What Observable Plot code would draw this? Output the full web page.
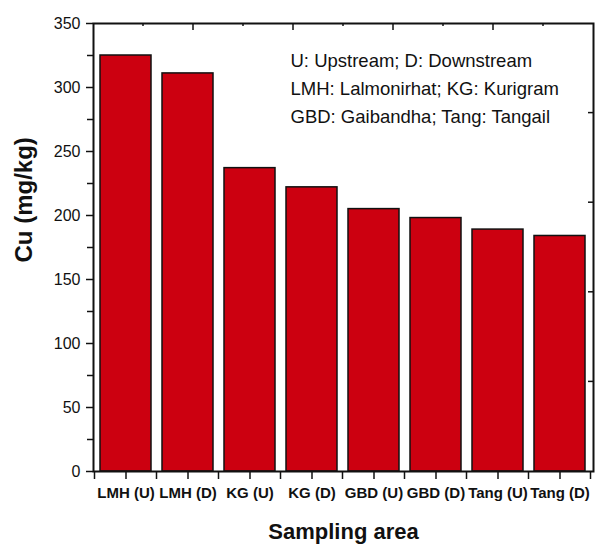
<!DOCTYPE html>
<html>
<head>
<meta charset="utf-8">
<script src="https://cdn.jsdelivr.net/npm/d3@7"></script>
<script src="https://cdn.jsdelivr.net/npm/@observablehq/plot@0.6"></script>
<style>
  html, body { margin: 0; padding: 0; background: #fff; }
  #chart svg { display: block; }
</style>
</head>
<body>
<div id="chart"></div>
<script>
// Copper concentration in sediment at each sampling site
const sites = ["LMH (U)", "LMH (D)", "KG (U)", "KG (D)", "GBD (U)", "GBD (D)", "Tang (U)", "Tang (D)"];
const cu = [325, 311, 237, 222, 205, 198, 189, 184];

// Axis ticks
const yMajorTicks = [0, 50, 100, 150, 200, 250, 300, 350];
const yMinorTicks = [25, 75, 125, 175, 225, 275, 325];

// Key to the site abbreviations
const legendLines = [
  "U: Upstream; D: Downstream",
  "LMH: Lalmonirhat; KG: Kurigram",
  "GBD: Gaibandha; Tang: Tangail"
];

const data = sites.map((site, i) => ({site, cu: cu[i]}));
const font = "'Liberation Sans', Arial, sans-serif";

// Ticks on the band boundaries below the x axis, plus the inward ticks
// on the top and right edges of the frame.
function frameTicks(index, scales, values, dimensions) {
  const x = scales.x;
  const {width, height, marginTop, marginRight, marginBottom, marginLeft} = dimensions;
  const gap = (x.step() - x.bandwidth()) / 2;
  const bounds = sites.map((s) => x(s) - gap).concat([x(sites[sites.length - 1]) + x.bandwidth() + gap]);
  const bottom = height - marginBottom;
  const right = width - marginRight;
  const g = d3.create("svg:g").attr("stroke", "#111").attr("stroke-width", 1.5).attr("fill", "none");
  g.selectAll(".b").data(bounds).join("line")
    .attr("x1", (d) => d).attr("x2", (d) => d)
    .attr("y1", bottom).attr("y2", bottom + 8);
  const w = right - marginLeft;
  g.selectAll(".t").data(d3.range(1, 10)).join("line")
    .attr("x1", (i) => marginLeft + (w * i) / 10).attr("x2", (i) => marginLeft + (w * i) / 10)
    .attr("y1", marginTop).attr("y2", (i) => marginTop + (i % 2 ? 3 : 7));
  const h = bottom - marginTop;
  g.selectAll(".r").data(d3.range(1, 5)).join("line")
    .attr("x1", right).attr("x2", right - 5)
    .attr("y1", (i) => bottom - (h * i) / 5).attr("y2", (i) => bottom - (h * i) / 5);
  return g.node();
}

const chart = Plot.plot({
  width: 597,
  height: 545,
  marginTop: 23,
  marginBottom: 74,
  marginLeft: 93,
  marginRight: 4,
  style: {fontFamily: font, color: "#111", background: "#fff"},
  x: {domain: sites, paddingInner: 0.17, paddingOuter: 0.085},
  y: {domain: [0, 350]},
  marks: [
    Plot.barY(data, {x: "site", y: "cu", fill: "#cc0010", stroke: "#111", strokeWidth: 1.5}),
    Plot.frame({stroke: "#111", strokeWidth: 2}),
    Plot.axisY({ticks: yMajorTicks, tickSize: 7, tickPadding: 6, fontSize: 16, label: null, strokeWidth: 1.5}),
    Plot.axisY({ticks: yMinorTicks, tickSize: 6, tickFormat: () => "", label: null, strokeWidth: 1.5}),
    Plot.axisX({tickSize: 8, tickPadding: 8, fontSize: 15, fontWeight: "bold", label: null, strokeWidth: 1.5}),
    frameTicks,
    Plot.text([legendLines.join("\n")], {
      frameAnchor: "top-left", textAnchor: "start", lineAnchor: "top",
      dx: 197, dy: 24, lineHeight: 1.5, fontSize: 18.5, fill: "#111"
    }),
    Plot.text(["Cu (mg/kg)"], {
      frameAnchor: "left", rotate: -90, dx: -69, dy: 15,
      fontSize: 24, fontWeight: "bold", fill: "#111", letterSpacing: 1.5
    }),
    Plot.text(["Sampling area"], {
      frameAnchor: "bottom", lineAnchor: "middle", dy: 60,
      fontSize: 22, fontWeight: "bold", fill: "#111"
    })
  ]
});

document.getElementById("chart").append(chart);
</script>
</body>
</html>
